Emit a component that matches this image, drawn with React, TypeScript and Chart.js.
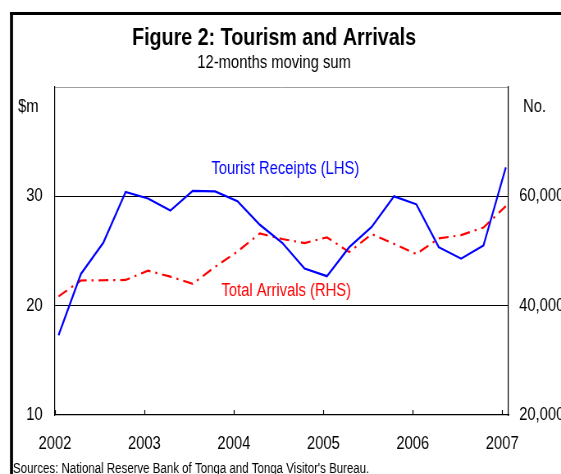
import React, { useEffect, useRef } from 'react';
import { Chart, registerables } from 'chart.js';

Chart.register(...registerables);

// Quarterly observation dates (decimal years)
const dates = [
  2002.04, 2002.29, 2002.54, 2002.79, 2003.04, 2003.29, 2003.54, 2003.79,
  2004.04, 2004.29, 2004.54, 2004.79, 2005.04, 2005.29, 2005.54, 2005.79,
  2006.04, 2006.29, 2006.54, 2006.79, 2007.04,
];
// Tourist receipts, $m (LHS)
const receipts = [
  17.3, 22.9, 25.75, 30.4, 29.8, 28.7, 30.5, 30.45,
  29.55, 27.4, 25.75, 23.4, 22.7, 25.35, 27.2, 30.0,
  29.27, 25.35, 24.3, 25.5, 32.65,
];
// Total arrivals, number (RHS)
const arrivals = [
  41700, 44600, 44650, 44700, 46400, 45300, 44000, 47100,
  49900, 53200, 52200, 51450, 52500, 49800, 53100, 51300,
  49450, 52300, 52900, 54300, 58200,
];
const yearTicks = [2002, 2003, 2004, 2005, 2006, 2007];
const leftTicks = [10, 20, 30, 40];
const rightTicks = [20000, 40000, 60000, 80000];

const TITLE = 'Figure 2: Tourism and Arrivals';
const SUBTITLE = '12-months moving sum';
const LEFT_UNIT = '$m';
const RIGHT_UNIT = 'No.';
const SOURCE = "Sources: National Reserve Bank of Tonga and Tonga Visitor's Bureau.";
const RECEIPTS_LABEL = 'Tourist Receipts (LHS)';
const ARRIVALS_LABEL = 'Total Arrivals (RHS)';

const FONT = '"Liberation Sans", Arial, sans-serif';
const BLUE = '#0000ff';
const RED = '#ff0000';

// The figure is drawn on a wider canvas and displayed horizontally condensed
// (the reference uses a narrow typeface).
const SX = 0.82;
const VIEW_W = 561;
const VIEW_H = 474;
const W = Math.round(VIEW_W / SX);

const decor = {
  id: 'decor',
  afterDraw(chart: any) {
    const ctx = chart.ctx as CanvasRenderingContext2D;
    const x = chart.scales.x;
    const y = chart.scales.y;
    const area = chart.chartArea;
    ctx.save();
    // outer frame (top & left)
    ctx.fillStyle = '#000';
    ctx.fillRect(10 / SX, 12, W, 3);
    ctx.fillRect(10 / SX, 12, 3 / SX, VIEW_H);

    // inward year ticks
    ctx.strokeStyle = '#000';
    ctx.lineWidth = 1.2;
    yearTicks.forEach((v) => {
      const px = Math.round(x.getPixelForValue(v)) + 0.5;
      ctx.beginPath();
      ctx.moveTo(px, area.bottom);
      ctx.lineTo(px, area.bottom - 5);
      ctx.stroke();
    });

    ctx.fillStyle = '#000';
    ctx.textBaseline = 'alphabetic';
    ctx.textAlign = 'center';
    ctx.font = `bold 24px ${FONT}`;
    ctx.fillText(TITLE, 274 / SX, 45);
    ctx.font = `18px ${FONT}`;
    ctx.fillText(SUBTITLE, 274 / SX, 68);

    ctx.textAlign = 'left';
    ctx.textBaseline = 'middle';
    ctx.font = `18px ${FONT}`;
    ctx.fillText(LEFT_UNIT, 18 / SX, 107);
    ctx.fillText(RIGHT_UNIT, 523 / SX, 107);

    ctx.font = `14px ${FONT}`;
    ctx.fillText(SOURCE, 13 / SX, 469);

    ctx.textAlign = 'center';
    ctx.font = `18px ${FONT}`;
    ctx.fillStyle = BLUE;
    ctx.fillText(RECEIPTS_LABEL, x.getPixelForValue(2004.575), y.getPixelForValue(32.48));
    ctx.fillStyle = RED;
    ctx.fillText(ARRIVALS_LABEL, x.getPixelForValue(2004.585), y.getPixelForValue(21.38));
    ctx.restore();
  },
};

export default function App() {
  const ref = useRef<HTMLCanvasElement>(null);
  useEffect(() => {
    if (!ref.current) return;
    const tickFont = { family: FONT, size: 18 };
    const chart = new Chart(ref.current, {
      type: 'line',
      data: {
        datasets: [
          {
            label: RECEIPTS_LABEL,
            data: dates.map((d, i) => ({ x: d, y: receipts[i] })),
            borderColor: BLUE,
            borderWidth: 2.2,
            pointRadius: 0,
            tension: 0,
            yAxisID: 'y',
          },
          {
            label: ARRIVALS_LABEL,
            data: dates.map((d, i) => ({ x: d, y: arrivals[i] })),
            borderColor: RED,
            borderWidth: 2.2,
            borderDash: [12, 6, 2.5, 6],
            pointRadius: 0,
            tension: 0,
            yAxisID: 'y1',
          },
        ],
      },
      options: {
        animation: false,
        responsive: false,
        events: [],
        layout: { padding: { top: 87, left: 0, right: 0, bottom: 0 } },
        plugins: { legend: { display: false }, tooltip: { enabled: false }, title: { display: false } },
        scales: {
          x: {
            type: 'linear',
            min: 2002,
            max: 2007.07,
            afterBuildTicks: (s: any) => { s.ticks = yearTicks.map((v) => ({ value: v })); },
            afterFit: (s: any) => { s.height = 59; },
            grid: { display: false, drawTicks: false },
            border: { display: true, color: '#000', width: 1.2 },
            ticks: { font: tickFont, color: '#000', padding: 18, maxRotation: 0, callback: (v: any) => String(v) },
          },
          y: {
            type: 'linear',
            position: 'left',
            min: 10,
            max: 40,
            afterBuildTicks: (s: any) => { s.ticks = leftTicks.map((v) => ({ value: v })); },
            afterFit: (s: any) => { s.width = Math.round(55 / SX); },
            grid: {
              drawTicks: false,
              lineWidth: 1,
              color: (c: any) => (c.tick && c.tick.value === 40 ? '#a0a0a0' : c.tick && c.tick.value === 10 ? 'rgba(0,0,0,0)' : '#000'),
            },
            border: { display: true, color: '#000', width: 1.2 },
            ticks: { font: tickFont, color: '#000', padding: Math.round(12 / SX), callback: (v: any) => (v === 40 ? '' : String(v)) },
          },
          y1: {
            type: 'linear',
            position: 'right',
            min: 20000,
            max: 80000,
            afterBuildTicks: (s: any) => { s.ticks = rightTicks.map((v) => ({ value: v })); },
            afterFit: (s: any) => { s.width = Math.round(W - 508 / SX); },
            grid: { drawOnChartArea: false, drawTicks: false },
            border: { display: true, color: '#000', width: 1.2 },
            ticks: { font: tickFont, color: '#000', padding: Math.round(11 / SX), callback: (v: any) => (v === 80000 ? '' : Number(v).toLocaleString('en-US')) },
          },
        },
      },
      plugins: [decor],
    } as any);
    return () => chart.destroy();
  }, []);
  return (
    <div style={{ position: 'absolute', left: 0, top: 0, width: VIEW_W, height: VIEW_H, background: '#fff', overflow: 'hidden' }}>
      <canvas ref={ref} width={W} height={VIEW_H} style={{ width: VIEW_W, height: VIEW_H, display: 'block' }} />
    </div>
  );
}
